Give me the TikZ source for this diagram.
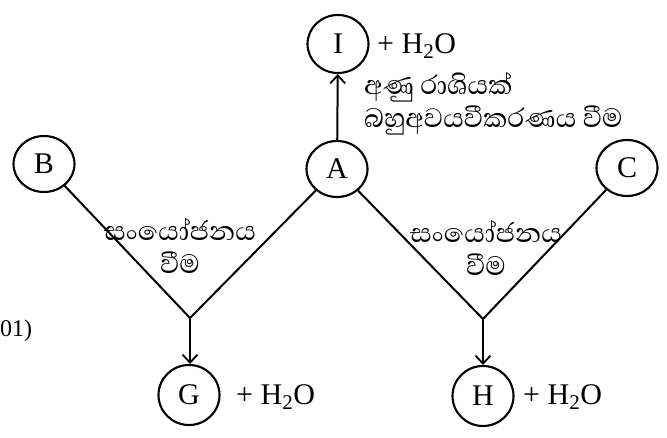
\documentclass[tikz,border=0pt]{standalone}
\usepackage{fontspec}
\setmainfont{Liberation Serif}
\newfontfamily\sinhala[Script=Sinhala]{Abhaya Libre}
\usetikzlibrary{arrows.meta,shapes.geometric}
\begin{document}
\begin{tikzpicture}[x=1pt,y=-1pt,
  mol/.style={ellipse,draw,line width=2.1pt,minimum width=61pt,minimum height=56pt,
    inner sep=0pt,font=\fontsize{30}{32}\selectfont},
  prod/.style={mol,minimum height=60pt},
  link/.style={line width=2pt},
  react/.style={line width=2pt,-{Straight Barb[length=8pt,width=15pt,line width=1.8pt]}},
  water/.style={anchor=west,inner sep=0pt,font=\fontsize{30}{32}\selectfont},
  note/.style={inner sep=0pt,font=\sinhala\fontsize{34}{33}\selectfont}]
  \useasboundingbox (0,0) rectangle (667,438);

  % reactant and product molecules
  \node[mol,minimum height=58pt] (I) at (338,44) {I};
  \node[mol] (A) at (337,169) {A};
  \node[mol] (B) at (44,164) {B};
  \node[mol] (C) at (627,168) {C};
  \node[prod] (G) at (189,395) {G};
  \node[prod] (H) at (483,396) {H};

  % junctions where two monomers combine
  \coordinate (jl) at (190,318);
  \coordinate (jr) at (483,319);

  % condensation branches
  \draw[link] (B) -- (jl);
  \draw[link] (A) -- (jl);
  \draw[link] (A) -- (jr);
  \draw[link] (C) -- (jr);
  \draw[react] (jl) -- (jl |- G.north);
  \draw[react] (jr) -- (H);
  \draw[react] (A) -- (I);

  % water released
  \node[water] (wI) at (377,46) {+ H\textsubscript{2}O};
  \node[water] (wG) at (236,397) {+ H\textsubscript{2}O};
  \node[water] (wH) at (523,397) {+ H\textsubscript{2}O};

  % reaction labels
  \node[note,anchor=west,align=left] (pol) at (364,104)
    {අණු රාශියක්\\බහුඅවයවීකරණය වීම};
  \node[note,align=center] (cl) at (180,246) {සංයෝජනය\\වීම};
  \node[note,align=center] (cr) at (486,248) {සංයෝජනය\\වීම};

  % question number at the margin
  \node[anchor=west,inner sep=0pt,font=\fontsize{24}{26}\selectfont] (qn) at (0,331) {01)};
\end{tikzpicture}
\end{document}
